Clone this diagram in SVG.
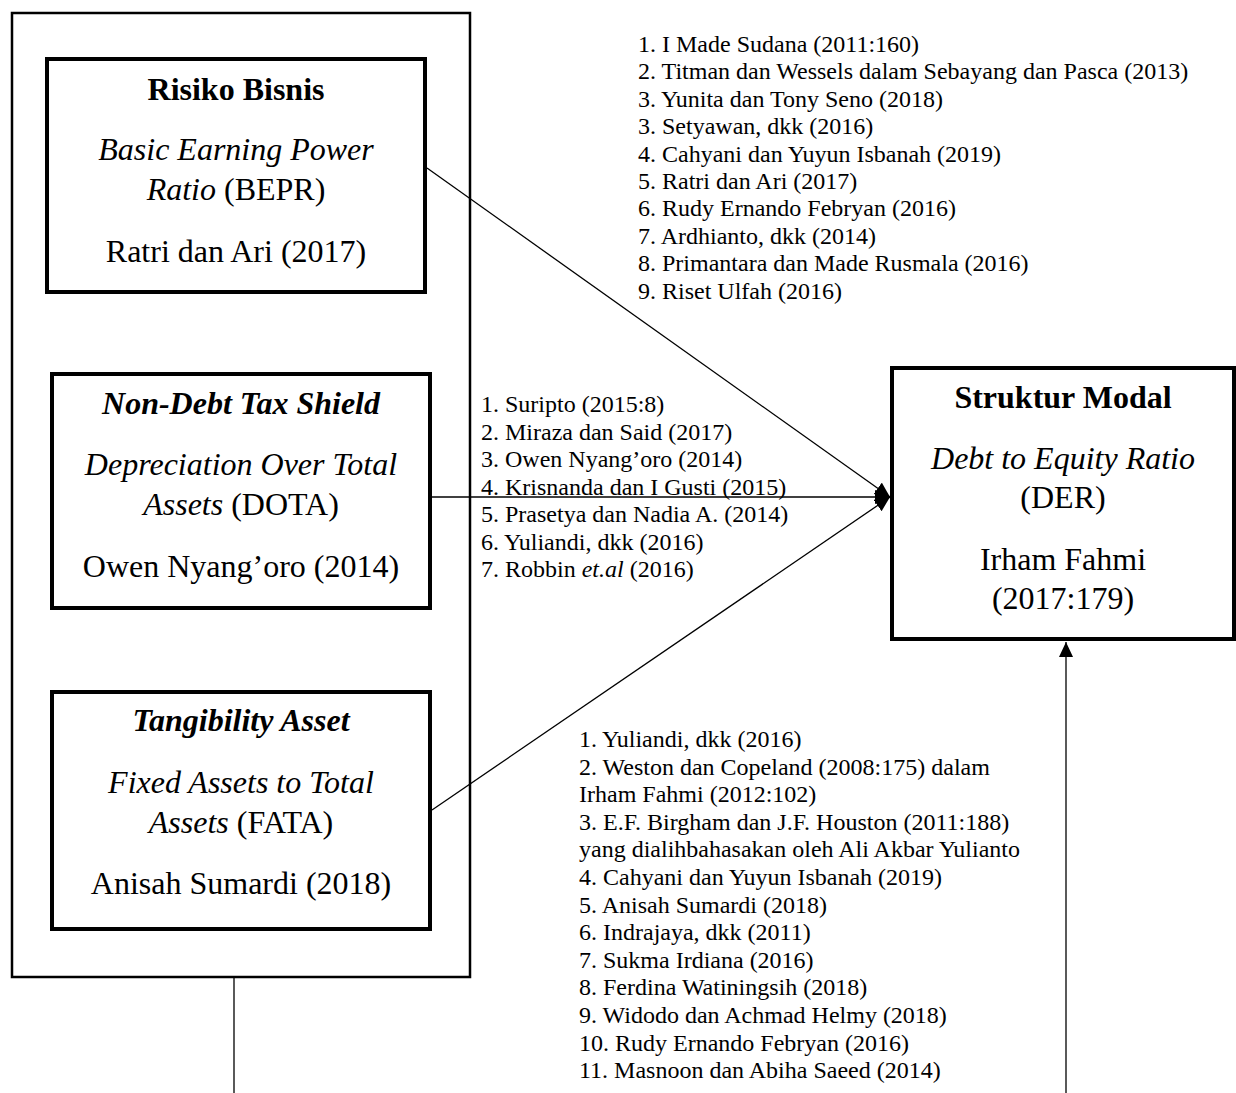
<svg xmlns="http://www.w3.org/2000/svg" width="1236" height="1093" viewBox="0 0 1236 1093">
<style>
  text { font-family: "Liberation Serif", "Times New Roman", serif; fill: #000; }
  .big { font-size: 32px; text-anchor: middle; }
  .b { font-weight: bold; }
  .i { font-style: italic; }
  .lst { font-size: 24px; }
  .box { fill: #fff; stroke: #000; stroke-width: 4; }
  .outer { fill: none; stroke: #000; stroke-width: 2.5; }
  .conn { stroke: #000; stroke-width: 1.3; fill: none; }
</style>
<defs>
  <marker id="arr" markerUnits="userSpaceOnUse" markerWidth="16" markerHeight="15" refX="15" refY="7" orient="auto">
    <path d="M0,0 L15,7 L0,14 z" fill="#000"/>
  </marker>
</defs>
<rect width="1236" height="1093" fill="#fff"/>
<g id="group-independent">
  <rect class="outer" x="12" y="13" width="458" height="964"/>
</g>
<g id="node-risiko">
  <rect class="box" x="47" y="59" width="378" height="233"/>
  <text class="big b" x="236" y="100">Risiko Bisnis</text>
  <text class="big i" x="236" y="160">Basic Earning Power</text>
  <text class="big" x="236" y="200"><tspan class="i">Ratio</tspan> (BEPR)</text>
  <text class="big" x="236" y="262">Ratri dan Ari (2017)</text>
</g>
<g id="node-ndts">
  <rect class="box" x="52" y="374" width="378" height="234"/>
  <text class="big b i" x="241" y="414">Non-Debt Tax Shield</text>
  <text class="big i" x="241" y="475">Depreciation Over Total</text>
  <text class="big" x="241" y="515"><tspan class="i">Assets</tspan> (DOTA)</text>
  <text class="big" x="241" y="577">Owen Nyang’oro (2014)</text>
</g>
<g id="node-tangibility">
  <rect class="box" x="52" y="692" width="378" height="237"/>
  <text class="big b i" x="241" y="731">Tangibility Asset</text>
  <text class="big i" x="241" y="793">Fixed Assets to Total</text>
  <text class="big" x="241" y="833"><tspan class="i">Assets</tspan> (FATA)</text>
  <text class="big" x="241" y="894">Anisah Sumardi (2018)</text>
</g>
<g id="node-struktur">
  <rect class="box" x="892" y="368" width="342" height="271"/>
  <text class="big b" x="1063" y="408">Struktur Modal</text>
  <text class="big i" x="1063" y="469">Debt to Equity Ratio</text>
  <text class="big" x="1063" y="508">(DER)</text>
  <text class="big" x="1063" y="570">Irham Fahmi</text>
  <text class="big" x="1063" y="609">(2017:179)</text>
</g>
<g id="connectors">
  <line class="conn" x1="427" y1="168" x2="890" y2="497" marker-end="url(#arr)"/>
  <line class="conn" x1="432" y1="497" x2="890" y2="497" marker-end="url(#arr)"/>
  <line class="conn" x1="432" y1="810" x2="890" y2="497" marker-end="url(#arr)"/>
  <line class="conn" x1="234" y1="977" x2="234" y2="1093"/>
  <line class="conn" x1="1066" y1="1093" x2="1066" y2="642" marker-end="url(#arr)"/>
</g>
<g id="label-top">
  <text class="lst" x="638" y="52">1. I Made Sudana (2011:160)</text>
  <text class="lst" x="638" y="79.4">2. Titman dan Wessels dalam Sebayang dan Pasca (2013)</text>
  <text class="lst" x="638" y="106.8">3. Yunita dan Tony Seno (2018)</text>
  <text class="lst" x="638" y="134.2">3. Setyawan, dkk (2016)</text>
  <text class="lst" x="638" y="161.6">4. Cahyani dan Yuyun Isbanah (2019)</text>
  <text class="lst" x="638" y="189">5. Ratri dan Ari (2017)</text>
  <text class="lst" x="638" y="216.4">6. Rudy Ernando Febryan (2016)</text>
  <text class="lst" x="638" y="243.8">7. Ardhianto, dkk (2014)</text>
  <text class="lst" x="638" y="271.2">8. Primantara dan Made Rusmala (2016)</text>
  <text class="lst" x="638" y="298.6">9. Riset Ulfah (2016)</text>
</g>
<g id="label-middle">
  <text class="lst" x="481" y="412">1. Suripto (2015:8)</text>
  <text class="lst" x="481" y="439.5">2. Miraza dan Said (2017)</text>
  <text class="lst" x="481" y="467">3. Owen Nyang’oro (2014)</text>
  <text class="lst" x="481" y="494.5">4. Krisnanda dan I Gusti (2015)</text>
  <text class="lst" x="481" y="522">5. Prasetya dan Nadia A. (2014)</text>
  <text class="lst" x="481" y="549.5">6. Yuliandi, dkk (2016)</text>
  <text class="lst" x="481" y="577">7. Robbin <tspan class="i">et.al</tspan> (2016)</text>
</g>
<g id="label-bottom">
  <text class="lst" x="579" y="747">1. Yuliandi, dkk (2016)</text>
  <text class="lst" x="579" y="774.6">2. Weston dan Copeland (2008:175) dalam</text>
  <text class="lst" x="579" y="802.2">Irham Fahmi (2012:102)</text>
  <text class="lst" x="579" y="829.8">3. E.F. Birgham dan J.F. Houston (2011:188)</text>
  <text class="lst" x="579" y="857.4">yang dialihbahasakan oleh Ali Akbar Yulianto</text>
  <text class="lst" x="579" y="885">4. Cahyani dan Yuyun Isbanah (2019)</text>
  <text class="lst" x="579" y="912.6">5. Anisah Sumardi (2018)</text>
  <text class="lst" x="579" y="940.2">6. Indrajaya, dkk (2011)</text>
  <text class="lst" x="579" y="967.8">7. Sukma Irdiana (2016)</text>
  <text class="lst" x="579" y="995.4">8. Ferdina Watiningsih (2018)</text>
  <text class="lst" x="579" y="1023">9. Widodo dan Achmad Helmy (2018)</text>
  <text class="lst" x="579" y="1050.6">10. Rudy Ernando Febryan (2016)</text>
  <text class="lst" x="579" y="1078.2">11. Masnoon dan Abiha Saeed (2014)</text>
</g>
</svg>
